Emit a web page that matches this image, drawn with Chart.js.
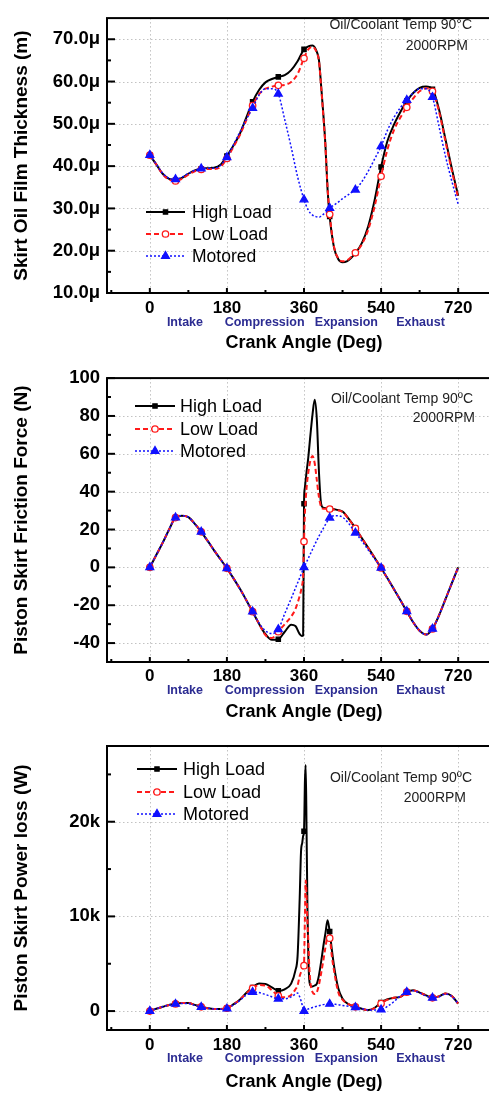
<!DOCTYPE html>
<html><head><meta charset="utf-8">
<script src="https://cdn.jsdelivr.net/npm/chart.js@4.4.1/dist/chart.umd.min.js"></script>
<style>
html,body{margin:0;padding:0;background:#fff;overflow:hidden;width:489px;height:1093px;}
.wrap{position:absolute;left:0;width:512px;}
</style></head><body>
<div class="wrap" style="top:0;height:360px"><canvas id="c1"></canvas></div>
<div class="wrap" style="top:360px;height:365px"><canvas id="c2"></canvas></div>
<div class="wrap" style="top:725px;height:368px"><canvas id="c3"></canvas></div>
<script>
// ---------- shared categories / labels ----------
const seriesNames = ['High Load', 'Low Load', 'Motored'];
const crankTicks = [0, 180, 360, 540, 720];
const crankMinorTicks = [-90, 90, 270, 450, 630];
const markerAngles = [0, 60, 120, 180, 240, 300, 360, 420, 480, 540, 600, 660];
const phaseNames = ['Intake', 'Compression', 'Expansion', 'Exhaust'];
const phaseAngles = [82, 268, 459, 632];
const noteLinesA = ['Oil/Coolant Temp 90°C', '2000RPM'];
const noteLinesB = ['Oil/Coolant Temp 90ºC', '2000RPM'];

// ---------- chart 1 : skirt oil film thickness (micro-m) ----------
const filmAngles = [0,15,30,45,60,75,90,105,120,135,150,165,180,195,210,225,240,255,270,285,300,315,330,345,360,370,380,390,395,400,405,410,415,420,430,440,450,460,470,480,495,510,525,540,555,570,585,600,615,630,645,660,675,690,705,720];
const filmHigh = [42.6,40.4,38.2,37.0,36.7,37.2,38.2,39.0,39.4,39.5,39.6,40.3,42.4,44.8,47.6,51.4,55.2,58.0,59.8,60.6,61.1,61.5,62.7,64.8,67.6,68.3,68.5,67.0,65.0,59.0,52.5,45.0,34.5,28.1,20.8,18.0,17.3,17.5,18.3,19.4,21.8,25.8,32.0,39.8,46.0,49.8,52.8,55.4,57.3,58.5,58.8,58.2,53.5,46.5,39.5,33.0];
const filmLow = [42.6,40.4,38.1,36.8,36.5,37.0,38.0,38.8,39.2,39.3,39.3,39.8,41.8,44.5,47.3,50.8,54.3,57.0,58.3,58.8,59.1,59.2,59.9,61.8,65.5,67.6,68.2,66.8,64.8,58.8,52.0,44.8,35.0,28.6,21.0,18.2,17.5,17.7,18.5,19.5,21.5,25.0,30.5,37.6,44.0,48.5,51.5,53.9,56.0,57.7,58.4,57.7,53.0,46.0,39.0,32.5];
const filmMotored = [42.6,40.5,38.3,37.1,36.9,37.4,38.3,39.0,39.4,39.5,39.5,40.2,42.1,45.0,48.0,51.0,53.7,56.8,58.3,58.3,57.1,51.0,44.5,37.5,32.1,29.6,28.4,28.0,27.9,28.2,28.6,29.0,29.5,30.1,30.8,31.5,32.3,33.0,33.7,34.4,36.3,38.8,41.7,44.7,48.5,51.5,53.8,55.6,57.3,58.3,58.3,56.3,49.5,42.5,36.5,31.0];
const filmTicks = [10, 20, 30, 40, 50, 60, 70];
const filmMinorTicks = [15, 25, 35, 45, 55, 65];

// ---------- chart 2 : piston skirt friction force (N) ----------
const forceAngles = [0,15,30,45,60,75,90,105,120,135,150,165,180,195,210,225,240,255,270,285,300,315,330,340,350,355,358,360,362,366,370,375,380,385,390,395,400,405,410,420,435,450,465,480,495,510,525,540,555,570,585,600,615,630,645,660,675,690,705,720];
const forceHigh = [0,6.5,13,20,26.3,27.3,26.5,23,18.8,14,9,4.3,-0.5,-5.7,-11.2,-17.2,-23.4,-29.8,-35.3,-38.3,-38.0,-34.0,-30.3,-31.0,-35.3,-36.2,-36.0,33.6,42,50.5,58,70,81,88.5,78,50,33.5,31.5,31.3,31.0,30.5,29.5,25.5,20.8,15.5,10.3,5.1,-0.3,-5.8,-11.5,-17.3,-23.2,-29.0,-33.5,-35.5,-32.5,-25.5,-17,-8.5,0];
const forceLow = [0,6.5,13,20,26.3,27.3,26.5,23,18.8,14,9,4.3,-0.5,-5.7,-11.2,-17.2,-23.4,-29.8,-35.8,-37.3,-34.0,-30.0,-26.0,-22.0,-15.0,-10.0,-4.0,13.7,28,42,50,56.5,58.8,55,46,37,32,31,31,30.8,30.3,29.3,25.3,20.6,15.4,10.2,5.0,-0.3,-5.8,-11.5,-17.3,-23.2,-29.0,-33.5,-35.5,-32.5,-25.5,-17,-8.5,0];
const forceMotored = [0,6.5,13,20,26.3,27.3,26.5,23,18.8,14,9,4.3,-0.5,-5.7,-11.2,-17.2,-23.4,-29.5,-33.5,-35.0,-32.7,-24.5,-16.5,-11.0,-5.5,-2.8,-1.0,0,1.0,2.8,4.8,7.2,9.6,12.0,14.3,16.5,18.6,20.6,22.6,26.2,27.3,26.5,23.0,18.3,14.0,9.2,4.5,-0.3,-5.8,-11.5,-17.3,-23.2,-29.0,-33.5,-35.5,-32.5,-25.5,-17,-8.5,0];
const forceTicks = [-40, -20, 0, 20, 40, 60, 80, 100];
const forceMinorTicks = [-50, -30, -10, 10, 30, 50, 70, 90];

// ---------- chart 3 : piston skirt power loss (W) ----------
const powerAngles = [0,15,30,45,60,75,90,105,120,135,150,165,180,195,210,225,240,255,270,285,300,315,330,340,345,350,353,356,358,360,361,362,364,366,368,370,372,375,380,385,390,395,400,405,410,415,420,425,430,440,450,465,480,495,510,525,540,555,570,585,600,615,630,645,660,675,690,705,720];
const powerHigh = [0,250,450,650,780,850,850,650,450,300,220,220,300,700,1200,1900,2500,2900,2850,2500,2150,2300,2900,4300,5800,12000,16800,17800,18500,19000,21000,24000,26000,19000,11000,6000,3500,2700,2600,2700,2900,3800,5200,6800,8200,9600,8400,6500,4800,2400,1300,700,450,250,100,350,900,1250,1400,1500,2000,2200,1950,1650,1400,1550,1850,1600,800];
const powerLow = [0,250,450,650,750,850,850,650,450,300,220,220,300,700,1200,1850,2400,2750,2700,2200,1600,1450,1700,2300,2700,3700,4100,4400,4600,4800,7000,9500,13800,12000,9500,7500,5000,3000,2000,1800,2000,2800,4000,5300,6700,7800,7700,5800,4300,2000,1200,700,450,250,100,300,800,1200,1400,1500,2000,2200,1950,1650,1400,1550,1850,1600,800];
const powerMotored = [0,250,450,650,750,800,800,600,420,300,220,200,250,650,1100,1700,2000,1950,1750,1500,1300,1300,1500,1800,1900,1500,1100,600,300,0,30,60,100,150,180,220,250,300,380,450,500,560,620,680,720,740,750,740,720,680,600,500,400,250,120,100,150,500,1000,1600,2000,2150,1900,1600,1400,1500,1800,1550,800];
const powerTicks = [0, 10000, 20000];
const powerMinorTicks = [5000, 15000, 25000];

// ---------- styles ----------
const FONT = '"Liberation Sans", Arial, Helvetica, sans-serif';
Chart.defaults.font.family = FONT;
Chart.defaults.color = '#000';
const seriesStyles = [
  {color: '#000000', width: 2,   dash: [],     point: 'rect',     r: 3,   fill: '#000000'},
  {color: '#ff1a1a', width: 2,   dash: [5, 3], point: 'circle',   r: 3.2, fill: '#ffffff'},
  {color: '#1010ff', width: 1.5, dash: [2, 2], point: 'triangle', r: 4.5, fill: '#1010ff'}
];

function makeDatasets(angles, seriesList) {
  return seriesList.map((vals, i) => {
    const s = seriesStyles[i];
    return {
      label: seriesNames[i],
      data: angles.map((a, j) => ({x: a, y: vals[j]})),
      borderColor: s.color, borderWidth: s.width, borderDash: s.dash,
      backgroundColor: s.fill,
      pointStyle: s.point,
      pointBackgroundColor: s.fill, pointBorderColor: s.color, pointBorderWidth: 1.3,
      pointRadius: c => (c.raw && markerAngles.includes(c.raw.x)) ? s.r : 0,
      pointHoverRadius: 0,
      cubicInterpolationMode: 'monotone',
      fill: false,
      order: 3 - i
    };
  });
}

const chartCfg = {
  c1: {yTicks: filmTicks, yMinor: filmMinorTicks, yGrid: [20,30,40,50,60,70], notes: noteLinesA,
       noteX: [472, 468], noteY: [25, 46], legX: [146, 185, 192], legY: [212, 234, 256], legFont: 17.5, phaseDy: 30},
  c2: {yTicks: forceTicks, yMinor: forceMinorTicks, yGrid: [-40,-20,0,20,40,60,80], notes: noteLinesB,
       noteX: [473, 475], noteY: [39, 58], legX: [135, 175, 180], legY: [46, 69, 91], legFont: 18, phaseDy: 29},
  c3: {yTicks: powerTicks, yMinor: powerMinorTicks, yGrid: [0, 10000, 20000], notes: noteLinesB,
       noteX: [472, 466], noteY: [53, 73], legX: [137, 177, 183], legY: [44, 67, 89], legFont: 18, phaseDy: 29}
};

function drawMarker(ctx, style, x, y, r, fill, stroke) {
  ctx.save();
  ctx.setLineDash([]);
  ctx.fillStyle = fill; ctx.strokeStyle = stroke; ctx.lineWidth = 1.3;
  ctx.beginPath();
  if (style === 'rect') {
    const h = r * Math.SQRT1_2;
    ctx.rect(x - h, y - h, 2 * h, 2 * h);
  } else if (style === 'circle') {
    ctx.arc(x, y, r, 0, Math.PI * 2);
  } else {
    ctx.moveTo(x, y - r);
    ctx.lineTo(x + r * Math.cos(Math.PI / 6), y + r * 0.5);
    ctx.lineTo(x - r * Math.cos(Math.PI / 6), y + r * 0.5);
    ctx.closePath();
  }
  ctx.fill(); ctx.stroke();
  ctx.restore();
}

const framePlugin = {
  id: 'frame',
  beforeDatasetsDraw(chart) {
    const cfg = chartCfg[chart.canvas.id];
    const {ctx, chartArea: a, scales: {x, y}} = chart;
    ctx.save();
    ctx.strokeStyle = '#c2c2c2'; ctx.lineWidth = 1; ctx.setLineDash([1.5, 2.5]);
    crankTicks.forEach(v => {
      const px = Math.round(x.getPixelForValue(v)) + 0.5;
      ctx.beginPath(); ctx.moveTo(px, a.top); ctx.lineTo(px, a.bottom); ctx.stroke();
    });
    cfg.yGrid.forEach(v => {
      const py = Math.round(y.getPixelForValue(v)) + 0.5;
      ctx.beginPath(); ctx.moveTo(a.left, py); ctx.lineTo(a.right, py); ctx.stroke();
    });
    ctx.restore();
  },
  afterDatasetsDraw(chart) {
    const cfg = chartCfg[chart.canvas.id];
    const {ctx, chartArea: a, scales: {x, y}} = chart;
    ctx.save();
    ctx.strokeStyle = '#000'; ctx.lineWidth = 2; ctx.setLineDash([]);
    ctx.strokeRect(a.left, a.top, a.right - a.left, a.bottom - a.top);
    const tick = (x1, y1, x2, y2) => { ctx.beginPath(); ctx.moveTo(x1, y1); ctx.lineTo(x2, y2); ctx.stroke(); };
    crankTicks.forEach(v => { const px = x.getPixelForValue(v); tick(px, a.bottom, px, a.bottom - 5); });
    crankMinorTicks.forEach(v => { const px = x.getPixelForValue(v); tick(px, a.bottom, px, a.bottom - 3); });
    cfg.yTicks.forEach(v => { const py = y.getPixelForValue(v); tick(a.left, py, a.left + 8, py); });
    cfg.yMinor.forEach(v => { const py = y.getPixelForValue(v); tick(a.left, py, a.left + 4, py); });
    ctx.restore();
  },
  afterDraw(chart) {
    const cfg = chartCfg[chart.canvas.id];
    const {ctx, chartArea: a, scales: {x}} = chart;
    ctx.save();
    // stroke phase labels
    ctx.fillStyle = '#2c2c92';
    ctx.font = 'bold 12.5px ' + FONT;
    ctx.textAlign = 'center'; ctx.textBaseline = 'middle';
    phaseNames.forEach((n, i) => ctx.fillText(n, x.getPixelForValue(phaseAngles[i]), a.bottom + cfg.phaseDy));
    // operating-condition note
    ctx.fillStyle = '#222';
    ctx.font = '14px ' + FONT;
    ctx.textAlign = 'right';
    cfg.notes.forEach((t, i) => ctx.fillText(t, cfg.noteX[i], cfg.noteY[i]));
    // legend
    ctx.textAlign = 'left';
    ctx.font = cfg.legFont + 'px ' + FONT;
    chart.data.datasets.forEach((ds, i) => {
      const s = seriesStyles[i];
      const yy = cfg.legY[i];
      ctx.save();
      ctx.strokeStyle = s.color; ctx.lineWidth = s.width; ctx.setLineDash(s.dash);
      ctx.beginPath(); ctx.moveTo(cfg.legX[0], yy); ctx.lineTo(cfg.legX[1], yy); ctx.stroke();
      ctx.restore();
      drawMarker(ctx, s.point, (cfg.legX[0] + cfg.legX[1]) / 2, yy, s.r, s.fill, s.color);
      ctx.fillStyle = '#000';
      ctx.fillText(ds.label, cfg.legX[2], yy + 1);
    });
    ctx.restore();
  }
};

function makeChart(id, o) {
  return new Chart(document.getElementById(id), {
    type: 'line',
    data: {datasets: makeDatasets(o.angles, o.series)},
    options: {
      responsive: true, maintainAspectRatio: false, animation: false, events: [],
      layout: {padding: {top: o.padTop, right: 11, left: 0, bottom: 0}},
      plugins: {legend: {display: false}, tooltip: {enabled: false}},
      scales: {
        x: {
          type: 'linear', min: -100, max: 820,
          grid: {display: false, drawTicks: false}, border: {display: false},
          afterBuildTicks: s => { s.ticks = crankTicks.map(v => ({value: v})); },
          afterFit: s => { s.height = o.xHeight; },
          ticks: {autoSkip: false, maxRotation: 0, padding: o.xTickPad, color: '#000',
                  font: {size: 17, weight: 'bold'}, callback: v => String(v)},
          title: {display: true, text: 'Crank Angle (Deg)', color: '#000',
                  font: {size: 18, weight: 'bold'}, padding: {top: 0, bottom: o.xTitlePad}}
        },
        y: {
          type: 'linear', min: o.yMin, max: o.yMax,
          grid: {display: false, drawTicks: false}, border: {display: false},
          afterBuildTicks: s => { s.ticks = o.yTicks.map(v => ({value: v})); },
          afterFit: s => { s.width = 107; },
          ticks: {autoSkip: false, padding: 7, color: '#000',
                  font: {size: 18.5, weight: 'bold'}, callback: o.yFmt},
          title: {display: true, text: o.yTitle, color: '#000',
                  font: {size: 19, weight: 'bold'}, padding: {top: 10.5, bottom: 0}}
        }
      }
    },
    plugins: [framePlugin]
  });
}

makeChart('c1', {angles: filmAngles, series: [filmHigh, filmLow, filmMotored],
  padTop: 9, xHeight: 67, xTitlePad: 6, xTickPad: 5, yMin: 10, yMax: 75, yTicks: filmTicks,
  yFmt: v => v.toFixed(1) + 'μ', yTitle: 'Skirt Oil Film Thickness (m)'});
makeChart('c2', {angles: forceAngles, series: [forceHigh, forceLow, forceMotored],
  padTop: 16, xHeight: 63, xTitlePad: 2, xTickPad: 4, yMin: -50, yMax: 100, yTicks: forceTicks,
  yFmt: v => String(v), yTitle: 'Piston Skirt Friction Force (N)'});
makeChart('c3', {angles: powerAngles, series: [powerHigh, powerLow, powerMotored],
  padTop: 21, xHeight: 63, xTitlePad: 0, xTickPad: 5, yMin: -2000, yMax: 28000, yTicks: powerTicks,
  yFmt: v => v === 0 ? '0' : (v / 1000) + 'k', yTitle: 'Piston Skirt Power loss (W)'});
</script>
</body></html>
